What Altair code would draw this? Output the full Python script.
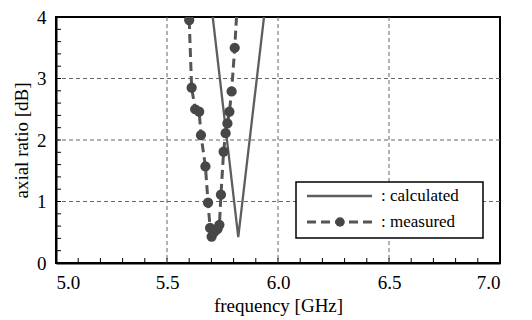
import altair as alt
import pandas as pd

# calculated axial ratio (V-shaped curve)
calc_freq = [5.706, 5.821, 5.937]
calc_ar = [4.00, 0.42, 4.00]

# measured axial ratio, in path order
meas_freq = [5.600, 5.611, 5.627, 5.645, 5.653, 5.673, 5.685, 5.694, 5.701, 5.712,
             5.727, 5.736, 5.743, 5.755, 5.764, 5.772, 5.781, 5.791, 5.805, 5.818]
meas_ar = [3.95, 2.85, 2.50, 2.46, 2.08, 1.57, 0.98, 0.57, 0.43, 0.50,
           0.55, 0.62, 1.11, 1.81, 2.11, 2.27, 2.46, 2.79, 3.50, 4.30]

x_grid = [5.5, 6.0, 6.5]
y_grid = [1, 2, 3]
x_minor = [round(5.0 + 0.1 * i, 1) for i in range(1, 20)]
y_minor = [round(0.2 * i, 1) for i in range(1, 20)]
x_labels = [5.0, 5.5, 6.0, 6.5, 7.0]
y_labels = [0, 1, 2, 3, 4]

W, H = 444, 246
FONT = "Liberation Serif, Times New Roman, serif"
FS = 19
LINE = "#555555"
MARK = "#474747"

xs = alt.Scale(domain=[5.0, 7.0], nice=False, zero=False)
ys = alt.Scale(domain=[0, 4], nice=False, zero=False)

calc = pd.DataFrame({"f": calc_freq, "ar": calc_ar, "o": range(len(calc_freq))})
meas = pd.DataFrame({"f": meas_freq, "ar": meas_ar, "o": range(len(meas_freq))})

base_x = alt.X("f:Q", scale=xs, axis=alt.Axis(
    values=x_labels, format=".1f", title="frequency [GHz]", grid=False, ticks=False,
    domainColor="black", domainWidth=2, labelFont=FONT, labelFontSize=FS,
    labelColor="black", labelPadding=10, titleFont=FONT, titleFontSize=FS,
    titleFontWeight="normal", titleColor="black", titlePadding=4))
base_y = alt.Y("ar:Q", scale=ys, axis=alt.Axis(
    values=y_labels, format="d", title="axial ratio [dB]", grid=False, ticks=False,
    domainColor="black", domainWidth=2, labelFont=FONT, labelFontSize=FS,
    labelColor="black", labelPadding=10, titleFont=FONT, titleFontSize=FS,
    titleFontWeight="normal", titleColor="black", titlePadding=5))

gx = alt.Chart(pd.DataFrame({"f": x_grid})).mark_rule(
    color="#666666", strokeWidth=1, strokeDash=[4, 3]).encode(x=alt.X("f:Q", scale=xs))
gy = alt.Chart(pd.DataFrame({"ar": y_grid})).mark_rule(
    color="#666666", strokeWidth=1, strokeDash=[4, 3]).encode(y=alt.Y("ar:Q", scale=ys))

tx = alt.Chart(pd.DataFrame({"f": x_minor})).mark_rule(color="black", strokeWidth=1).encode(
    x=alt.X("f:Q", scale=xs), y=alt.value(H), y2=alt.value(H - 5))
ty = alt.Chart(pd.DataFrame({"ar": y_minor})).mark_rule(color="black", strokeWidth=1).encode(
    y=alt.Y("ar:Q", scale=ys), x=alt.value(0), x2=alt.value(5))

calc_line = alt.Chart(calc).mark_line(color="#5e5e5e", strokeWidth=2.3, clip=True).encode(
    x=base_x, y=base_y, order="o:Q")
meas_line = alt.Chart(meas).mark_line(color=LINE, strokeWidth=3, strokeDash=[9, 5], clip=True).encode(
    x=alt.X("f:Q", scale=xs), y=alt.Y("ar:Q", scale=ys), order="o:Q")
meas_pts = alt.Chart(meas).mark_point(filled=True, shape="circle", size=105, color=MARK,
                                      opacity=1, clip=True).encode(
    x=alt.X("f:Q", scale=xs), y=alt.Y("ar:Q", scale=ys))

# legend box
leg_box = alt.Chart(pd.DataFrame({"a": [0]})).mark_rect(
    fill="white", stroke="black", strokeWidth=1.5).encode(
    x=alt.value(240), x2=alt.value(427), y=alt.value(165), y2=alt.value(221))
leg_l1 = alt.Chart(pd.DataFrame({"a": [0]})).mark_rule(color="#5e5e5e", strokeWidth=2.3).encode(
    x=alt.value(251), x2=alt.value(316), y=alt.value(179))
leg_l2 = alt.Chart(pd.DataFrame({"a": [0]})).mark_rule(color=LINE, strokeWidth=3, strokeDash=[9, 5]).encode(
    x=alt.value(251), x2=alt.value(316), y=alt.value(205))
leg_p2 = alt.Chart(pd.DataFrame({"a": [0]})).mark_point(filled=True, shape="circle", size=90,
                                                        color=MARK, opacity=1).encode(
    x=alt.value(284), y=alt.value(205))
leg_t = alt.Chart(pd.DataFrame({"t": [": calculated", ": measured"], "y": [179, 205]})).mark_text(
    font=FONT, fontSize=17, align="left", baseline="middle", color="black").encode(
    text="t:N", x=alt.value(325), y=alt.Y("y:Q", scale=None))

chart = alt.layer(gx, gy, tx, ty, calc_line, meas_line, meas_pts,
                  leg_box, leg_l1, leg_l2, leg_p2, leg_t).properties(
    width=W, height=H, autosize=alt.AutoSizeParams(type="none"),
    padding={"left": 48, "top": 9, "right": 24, "bottom": 56},
    background="white").configure_view(stroke="black", strokeWidth=2)

chart.save("out.html", embed_options={"renderer": "svg", "actions": False})
